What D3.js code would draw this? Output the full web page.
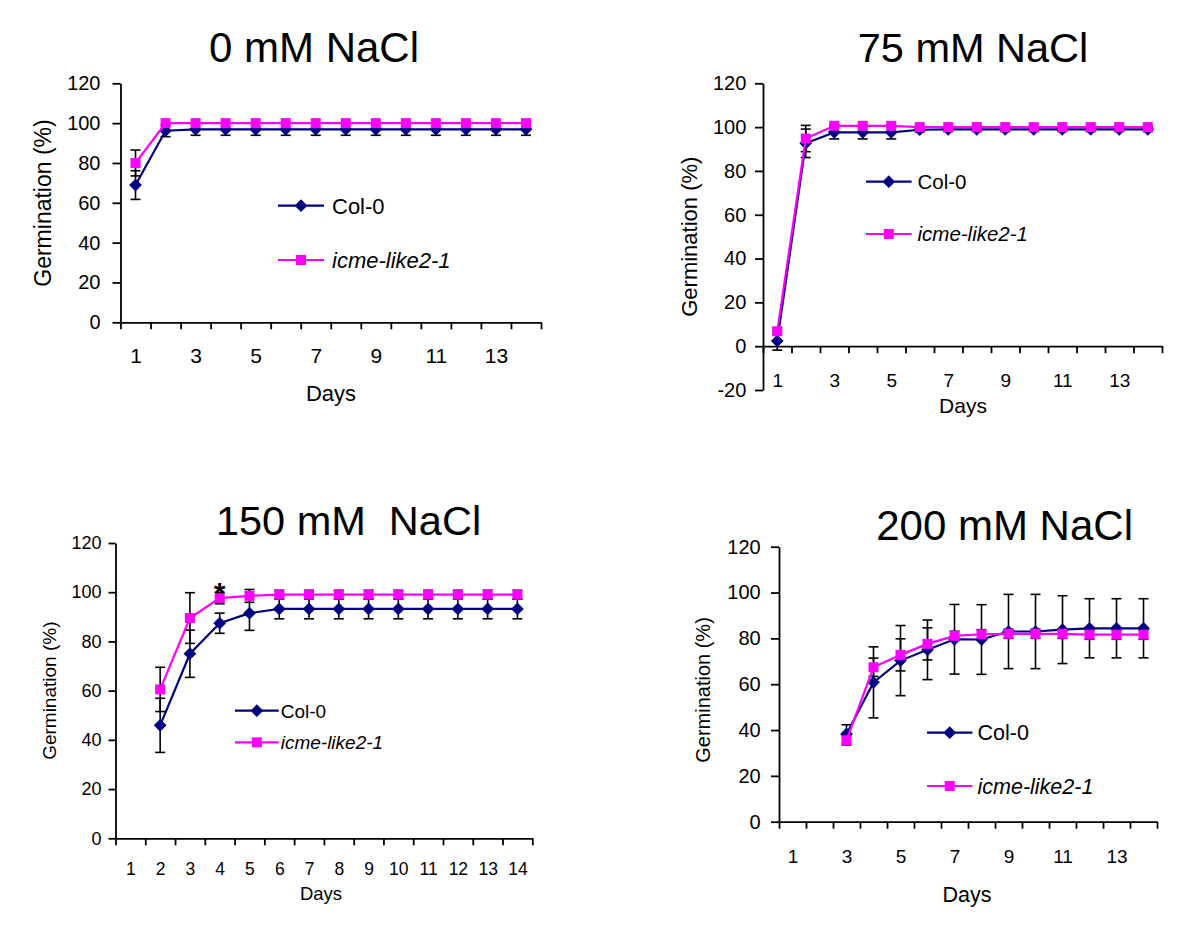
<!DOCTYPE html>
<html>
<head>
<meta charset="utf-8">
<script src="https://cdn.jsdelivr.net/npm/d3@7"></script>
<style>
  body { margin: 0; background: #fff; }
  text { font-family: "Liberation Sans", Arial, sans-serif; fill: #000; }
</style>
</head>
<body>
<div id="chart"></div>
<script>
// categories
const days = [1, 2, 3, 4, 5, 6, 7, 8, 9, 10, 11, 12, 13, 14];
const seriesNames = ["Col-0", "icme-like2-1"];

// 0 mM NaCl
const col0_0 = [68.9, 96.2, 96.9, 96.9, 96.9, 96.9, 96.9, 96.9, 96.9, 96.9, 96.9, 96.9, 96.9, 96.9];
const col0_0_err = [7.2, 3, 3, 3, 3, 3, 3, 3, 3, 3, 3, 3, 3, 3];
const icme_0 = [80, 100, 100, 100, 100, 100, 100, 100, 100, 100, 100, 100, 100, 100];
const icme_0_err = [6.5, 0, 0, 0, 0, 0, 0, 0, 0, 0, 0, 0, 0, 0];

// 75 mM NaCl
const col0_75 = [2.4, 92.6, 97.6, 97.6, 97.6, 98.8, 99, 99, 99, 99, 99, 99, 99, 99];
const col0_75_err = [4.2, 6.5, 3, 3, 3, 1, 1, 1, 1, 1, 1, 1, 1, 1];
const icme_75 = [6.8, 94.8, 100.6, 100.6, 100.6, 100, 100, 100, 100, 100, 100, 100, 100, 100];
const icme_75_err = [1.5, 6, 0.5, 0.5, 0.5, 0.5, 0.5, 0.5, 0.5, 0.5, 0.5, 0.5, 0.5, 0.5];

// 150 mM NaCl
const col0_150 = [null, 45.9, 75, 87.4, 91.5, 93.2, 93.2, 93.2, 93.2, 93.2, 93.2, 93.2, 93.2, 93.2];
const col0_150_err = [null, 11, 9.6, 4.1, 7, 4, 4, 4, 4, 4, 4, 4, 4, 4];
const icme_150 = [null, 60.5, 89.5, 97.6, 98.5, 99, 99, 99, 99, 99, 99, 99, 99, 99];
const icme_150_err = [null, 9, 10.3, 2.3, 2.6, 1.8, 1.8, 1.8, 1.8, 1.8, 1.8, 1.8, 1.8, 1.8];

// 200 mM NaCl
const col0_200 = [null, null, 38.3, 60.8, 70.3, 75, 79.6, 79.5, 83, 83, 83.8, 84.4, 84.4, 84.4];
const col0_200_err = [null, null, 4, 15.5, 15.3, 13, 15.2, 15.2, 16.2, 16.2, 14.8, 12.9, 12.9, 12.9];
const icme_200 = [null, null, 35.5, 67.4, 72.8, 77.6, 81.1, 81.8, 82, 82, 82, 81.6, 81.6, 81.6];
const icme_200_err = [null, null, 2, 4, 7, 7, 2, 2, 2, 2, 2, 2, 2, 2];

// tick labels
const yTicks = [0, 20, 40, 60, 80, 100, 120];
const yTicksNeg = [-20, 0, 20, 40, 60, 80, 100, 120];
const xLabelsOdd = [1, 3, 5, 7, 9, 11, 13];
const xLabelsAll = [1, 2, 3, 4, 5, 6, 7, 8, 9, 10, 11, 12, 13, 14];

const colors = ["#000080", "#ff00ff"];

const svg = d3.select("#chart").append("svg")
  .attr("width", 1200)
  .attr("height", 933);

const panels = [
  {
    title: "0 mM NaCl", titleX: 314, titleY: 62, titleSize: 42,
    left: 120.5, right: 541, top: 83.3, bottom: 322.3, yMin: 0, yTicks: yTicks,
    yFont: 20, yPad: 12, yTick: 8,
    xLabels: xLabelsOdd, xFont: 21, xPad: 26,
    daysX: 331, daysY: 401, daysSize: 22,
    yTitleX: 43, yTitleY: 203, yTitleSize: 23,
    legX1: 278, legX2: 324, legText: 332, legY: [205.7, 260], legSize: 22,
    series: [[col0_0, col0_0_err], [icme_0, icme_0_err]]
  },
  {
    title: "75 mM NaCl", titleX: 973, titleY: 62, titleSize: 41.5,
    left: 763, right: 1162, top: 83.3, bottom: 390, yMin: -20, yTicks: yTicksNeg,
    yFont: 20, yPad: 8.7, yTick: 8,
    xLabels: xLabelsOdd, xFont: 19, xPad: 27,
    daysX: 963, daysY: 413, daysSize: 21,
    yTitleX: 689, yTitleY: 236.7, yTitleSize: 22,
    legX1: 866, legX2: 911.6, legText: 917.5, legY: [181.7, 234], legSize: 20.5,
    series: [[col0_75, col0_75_err], [icme_75, icme_75_err]]
  },
  {
    title: "150 mM  NaCl", titleX: 348.5, titleY: 535, titleSize: 41.5,
    left: 115.5, right: 532.3, top: 543, bottom: 838.3, yMin: 0, yTicks: yTicks,
    yFont: 18, yPad: 7, yTick: 7,
    xLabels: xLabelsAll, xFont: 17.5, xPad: 24.3,
    daysX: 321, daysY: 900, daysSize: 18.5,
    yTitleX: 49.6, yTitleY: 690.7, yTitleSize: 19,
    legX1: 235, legX2: 278.7, legText: 280.7, legY: [710.7, 742.3], legSize: 19,
    series: [[col0_150, col0_150_err], [icme_150, icme_150_err]],
    star: 4
  },
  {
    title: "200 mM NaCl", titleX: 1004.6, titleY: 540, titleSize: 42,
    left: 779, right: 1157, top: 546.7, bottom: 821.7, yMin: 0, yTicks: yTicks,
    yFont: 20, yPad: 10.3, yTick: 8,
    xLabels: xLabelsOdd, xFont: 19, xPad: 27.8,
    daysX: 967, daysY: 901.7, daysSize: 21.5,
    yTitleX: 702.6, yTitleY: 690, yTitleSize: 20,
    legX1: 927, legX2: 972.4, legText: 977.5, legY: [732.7, 786], legSize: 21.5,
    series: [[col0_200, col0_200_err], [icme_200, icme_200_err]]
  }
];

const diamond = d3.symbol().type(d3.symbolSquare).size(81);
const square = d3.symbol().type(d3.symbolSquare).size(100);

function drawMarker(g, i, cx, cy) {
  if (i === 0) {
    g.append("path")
      .attr("d", diamond())
      .attr("transform", `translate(${cx},${cy}) rotate(45)`)
      .attr("fill", colors[0]);
  } else {
    g.append("path")
      .attr("d", square())
      .attr("transform", `translate(${cx},${cy})`)
      .attr("fill", colors[1]);
  }
}

function styleAxis(sel, size, width) {
  sel.attr("font-family", null).attr("font-size", null);
  sel.selectAll("text").style("font-size", size + "px");
  sel.selectAll("line, path").attr("stroke", "#000").attr("stroke-width", width);
}

panels.forEach(p => {
  const x = d3.scaleLinear([0.5, 14.5], [p.left, p.right]);
  const y = d3.scaleLinear([p.yMin, 120], [p.bottom, p.top]);
  const g = svg.append("g");

  g.append("text")
    .attr("x", p.titleX)
    .attr("y", p.titleY)
    .attr("text-anchor", "middle")
    .style("font-size", p.titleSize + "px")
    .style("white-space", "pre")
    .text(p.title);

  // y axis (plain hyphen for negatives, like the original)
  g.append("g")
    .attr("transform", `translate(${p.left},0)`)
    .call(d3.axisLeft(y).tickValues(p.yTicks).tickFormat(d => String(d))
      .tickSizeInner(p.yTick).tickSizeOuter(0).tickPadding(p.yPad))
    .call(s => styleAxis(s, p.yFont, 1.8));

  // x axis, tick marks between categories
  const bounds = days.map(d => d - 0.5).concat([14.5]);
  g.append("g")
    .attr("transform", `translate(0,${y(0)})`)
    .call(d3.axisBottom(x).tickValues(bounds).tickFormat("").tickSizeInner(7).tickSizeOuter(0))
    .call(s => styleAxis(s, p.xFont, 1.8));

  g.append("g")
    .attr("transform", `translate(0,${y(0)})`)
    .call(d3.axisBottom(x).tickValues(p.xLabels).tickSize(0).tickPadding(p.xPad))
    .call(s => s.select(".domain").remove())
    .call(s => styleAxis(s, p.xFont, 0));

  g.append("text")
    .attr("x", p.daysX)
    .attr("y", p.daysY)
    .attr("text-anchor", "middle")
    .style("font-size", p.daysSize + "px")
    .text("Days");

  g.append("text")
    .attr("transform", `translate(${p.yTitleX},${p.yTitleY}) rotate(-90)`)
    .attr("text-anchor", "middle")
    .attr("dy", "0.35em")
    .style("font-size", p.yTitleSize + "px")
    .text("Germination (%)");

  // error bars
  p.series.forEach(([vals, errs]) => {
    vals.forEach((v, i) => {
      const e = errs[i];
      if (v == null || !e) return;
      const cx = x(days[i]);
      const eg = g.append("g").attr("stroke", "#000").attr("stroke-width", 1.6);
      eg.append("line").attr("x1", cx).attr("x2", cx).attr("y1", y(v - e)).attr("y2", y(v + e));
      [v - e, v + e].forEach(t => {
        eg.append("line").attr("x1", cx - 5).attr("x2", cx + 5).attr("y1", y(t)).attr("y2", y(t));
      });
    });
  });

  // lines and markers
  p.series.forEach(([vals], si) => {
    const pts = days.map((d, i) => [d, vals[i]]);
    const line = d3.line()
      .defined(d => d[1] != null)
      .x(d => x(d[0]))
      .y(d => y(d[1]));
    g.append("path")
      .attr("d", line(pts))
      .attr("fill", "none")
      .attr("stroke", colors[si])
      .attr("stroke-width", 2.2);
    pts.filter(d => d[1] != null).forEach(d => drawMarker(g, si, x(d[0]), y(d[1])));
  });

  // legend
  seriesNames.forEach((name, si) => {
    const ly = p.legY[si];
    g.append("line")
      .attr("x1", p.legX1).attr("x2", p.legX2)
      .attr("y1", ly).attr("y2", ly)
      .attr("stroke", colors[si]).attr("stroke-width", 2.2);
    drawMarker(g, si, (p.legX1 + p.legX2) / 2, ly);
    g.append("text")
      .attr("x", p.legText)
      .attr("y", ly)
      .attr("dy", "0.36em")
      .style("font-size", p.legSize + "px")
      .style("font-style", si === 1 ? "italic" : "normal")
      .text(name);
  });

  if (p.star) {
    g.append("text")
      .attr("x", x(p.star))
      .attr("y", y(103) + 18)
      .attr("text-anchor", "middle")
      .style("font-size", "30px")
      .style("font-weight", "bold")
      .text("*");
  }
});
</script>
</body>
</html>
